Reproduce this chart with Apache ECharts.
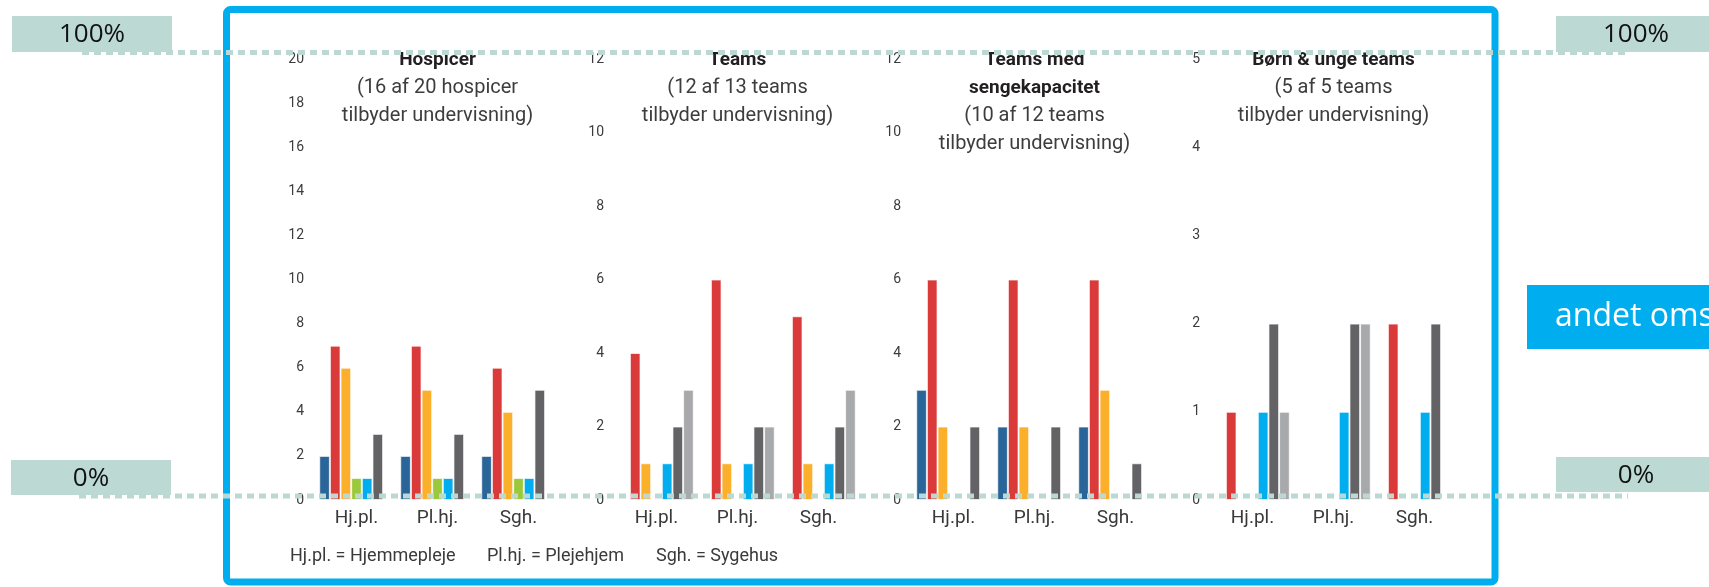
<!DOCTYPE html>
<html>
<head>
<meta charset="utf-8">
<script src="https://cdn.jsdelivr.net/npm/echarts@6/dist/echarts.min.js"></script>
<style>
html, body { margin: 0; padding: 0; background: #fff; }
#main { width: 1709px; height: 587px; }
</style>
</head>
<body>
<div id="main"></div>
<script>
var categories = ['Hj.pl.', 'Pl.hj.', 'Sgh.'];

// one row per bar colour: dark blue, red, orange, green, blue, dark grey, light grey
var hospicer = [[2, 2, 2], [7, 7, 6], [6, 5, 4], [1, 1, 1], [1, 1, 1], [3, 3, 5], [0, 0, 0]];
var teams = [[0, 0, 0], [4, 6, 5], [1, 1, 1], [0, 0, 0], [1, 1, 1], [2, 2, 2], [3, 2, 3]];
var teamsSeng = [[3, 2, 2], [6, 6, 6], [2, 2, 3], [0, 0, 0], [0, 0, 0], [2, 2, 1], [0, 0, 0]];
var bornUnge = [[0, 0, 0], [1, 0, 2], [0, 0, 0], [0, 0, 0], [1, 1, 1], [2, 2, 2], [1, 2, 0]];

var yMax = [20, 12, 12, 5];
var yStep = [2, 2, 2, 1];

var titleLines = [['Hospicer'], ['Teams'], ['Teams med', 'sengekapacitet'], ['Børn & unge teams']];
var subLines = [
    ['(16 af 20 hospicer', 'tilbyder undervisning)'],
    ['(12 af 13 teams', 'tilbyder undervisning)'],
    ['(10 af 12 teams', 'tilbyder undervisning)'],
    ['(5 af 5 teams', 'tilbyder undervisning)']
];
var legendNotes = ['Hj.pl. = Hjemmepleje', 'Pl.hj. = Plejehjem', 'Sgh. = Sygehus'];

var barColors = ['#2a6599', '#db3a3a', '#fcaf2b', '#9cc93b', '#00adef', '#636365', '#a8a9ab'];
var panels = [hospicer, teams, teamsSeng, bornUnge];
var gridLeft = [316, 616, 913, 1212];
var gridWidth = 243;
var font = 'Roboto';

var myChart = echarts.init(document.getElementById('main'));

var grids = [], xAxes = [], yAxes = [], series = [], graphics = [];

panels.forEach(function (rows, p) {
    grids.push({ left: gridLeft[p], width: gridWidth, top: 59, bottom: 87 });
    xAxes.push({
        type: 'category',
        gridIndex: p,
        data: categories,
        axisLine: { show: false },
        axisTick: { show: false },
        axisLabel: { color: '#3a3a3a', fontSize: 19, fontFamily: font, margin: 9 }
    });
    yAxes.push({
        type: 'value',
        gridIndex: p,
        min: 0,
        max: yMax[p],
        interval: yStep[p],
        splitLine: { show: false },
        axisLine: { show: false },
        axisTick: { show: false },
        axisLabel: { color: '#3c3c3c', fontSize: 14, fontFamily: font, margin: 12 }
    });
    rows.forEach(function (vals, i) {
        series.push({
            type: 'bar',
            xAxisIndex: p,
            yAxisIndex: p,
            data: vals,
            barGap: '0%',
            barCategoryGap: '8%',
            itemStyle: { color: barColors[i], borderColor: 'rgba(255,255,255,0.7)', borderWidth: 1 }
        });
    });

    // panel heading
    var cx = gridLeft[p] + gridWidth / 2;
    var y = 60;
    titleLines[p].forEach(function (t) {
        graphics.push({ type: 'text', x: cx, y: y, z: 20, style: {
            text: t, font: 'bold 19px Roboto', fill: '#231f20', textAlign: 'center', textVerticalAlign: 'middle' } });
        y += 28;
    });
    subLines[p].forEach(function (t) {
        graphics.push({ type: 'text', x: cx, y: y, z: 20, style: {
            text: t, font: '20px Roboto', fill: '#3d3d3d', textAlign: 'center', textVerticalAlign: 'middle' } });
        y += 28;
    });
});

// abbreviations under the charts
[290, 487, 656].forEach(function (x, i) {
    graphics.push({ type: 'text', x: x, y: 556, z: 20, style: {
        text: legendNotes[i], font: '18px Roboto', fill: '#3a3a3a', textVerticalAlign: 'middle' } });
});

// blue frame
graphics.push({ type: 'rect', z: 50, shape: { x: 226.5, y: 9.5, width: 1268.5, height: 572.5, r: 4 },
    style: { fill: 'none', stroke: '#00aeef', lineWidth: 7 } });

// 100% / 0% markers
var boxFill = '#bdd9d4';
[[12, 16, 160, 36, '100%', 92], [11, 460, 160, 35, '0%', 91], [1556, 16, 153, 36, '100%', 1636], [1556, 457, 153, 35, '0%', 1636]]
    .forEach(function (b) {
        graphics.push({ type: 'rect', z: 40, shape: { x: b[0], y: b[1], width: b[2], height: b[3] }, style: { fill: boxFill } });
        graphics.push({ type: 'text', x: b[5], y: b[1] + b[3] / 2 + 1, z: 41, style: {
            text: b[4], font: '26px "Open Sans"', fill: '#111', textAlign: 'center', textVerticalAlign: 'middle' } });
    });

graphics.push({ type: 'rect', z: 40, shape: { x: 1527, y: 285, width: 182, height: 64 }, style: { fill: '#00aeef' } });
graphics.push({ type: 'text', x: 1555, y: 317, z: 41, style: {
    text: 'andet oms', font: '32px "Open Sans"', fill: '#fff', textVerticalAlign: 'middle' } });

// dotted guide lines at 100% and 0%
graphics.push({ type: 'line', z: 100, shape: { x1: 82, y1: 52.5, x2: 1630, y2: 52.5 },
    style: { stroke: '#bcd8d3', lineWidth: 5, lineDash: [7, 5] } });
graphics.push({ type: 'line', z: 100, shape: { x1: 79, y1: 496, x2: 1628, y2: 496 },
    style: { stroke: '#bcd8d3', lineWidth: 5, lineDash: [7, 5] } });

option = {
    backgroundColor: '#fff',
    animation: false,
    grid: grids,
    xAxis: xAxes,
    yAxis: yAxes,
    series: series,
    graphic: graphics
};
myChart.setOption(option);
window.addEventListener('resize', function () {
    myChart.resize();
});
</script>
</body>
</html>
